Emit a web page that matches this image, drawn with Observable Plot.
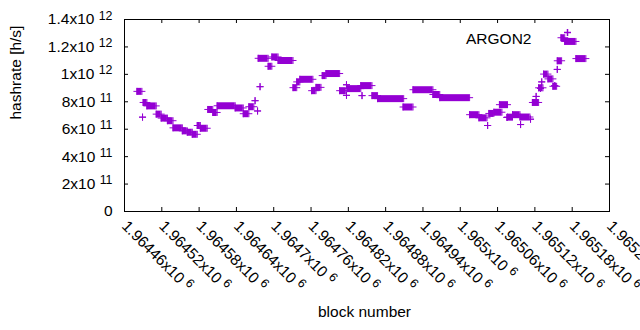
<!DOCTYPE html>
<html><head><meta charset="utf-8">
<script src="https://cdn.jsdelivr.net/npm/d3@7"></script>
<script src="https://cdn.jsdelivr.net/npm/@observablehq/plot@0.6"></script>
<style>html,body{margin:0;padding:0;background:#fff;overflow:hidden} svg{display:block}</style>
</head><body><div id="chart"></div>
<script>
// Runs of blocks with a constant hashrate estimate (start block, end block, hashrate in h/s)
const runStart = [1964480,1964489,1964490,1964496,1964511,1964519,1964529,1964538,1964553,1964561,
  1964569,1964577,1964582,1964594,1964602,1964609,1964638,1964651,1964660,1964670,
  1964674,1964678,1964675,1964691,1964697,1964707,1964731,1964737,1964742,1964761,
  1964768,1964778,1964784,1964806,1964817,1964817,1964818,1964842,1964840,1964858,
  1964867,1964908,1964924,1964956,1964967,1965015,1965030,1965044,1965046,1965054,
  1965063,1965075,1965076,1965084,1965097,1965096,1965113,1965116,1965122,1965126,
  1965129,1965131,1965134,1965141,1965149,1965152,1965156,1965156,1965162,1965168,
  1965186];
const runEnd = [1964488,1964489,1964496,1964511,1964519,1964529,1964538,1964553,1964561,1964569,
  1964577,1964582,1964593,1964602,1964609,1964638,1964651,1964660,1964668,1964670,
  1964674,1964678,1964691,1964697,1964707,1964731,1964737,1964742,1964763,1964768,
  1964776,1964784,1964806,1964816,1964817,1964817,1964840,1964842,1964858,1964867,
  1964909,1964924,1964956,1964967,1965015,1965030,1965043,1965044,1965054,1965067,
  1965076,1965075,1965084,1965096,1965097,1965112,1965113,1965126,1965122,1965133,
  1965129,1965131,1965141,1965149,1965155,1965152,1965156,1965163,1965168,1965186,
  1965202];
const runHashrate = [8.76e11,6.88e11,7.95e11,7.70e11,7.10e11,6.81e11,6.62e11,6.10e11,5.88e11,5.78e11,
  5.63e11,6.27e11,6.07e11,7.44e11,7.22e11,7.71e11,7.55e11,7.13e11,7.64e11,8.08e11,
  7.33e11,9.10e11,1.117e12,1.059e12,1.127e12,1.101e12,9.03e11,9.45e11,9.64e11,8.81e11,
  9.05e11,9.91e11,1.006e12,8.81e11,9.24e11,8.47e11,8.96e11,8.45e11,9.18e11,8.45e11,
  8.23e11,7.62e11,8.88e11,8.53e11,8.30e11,7.06e11,6.83e11,6.27e11,7.15e11,7.24e11,
  7.79e11,6.86e11,6.88e11,7.06e11,6.34e11,6.89e11,6.73e11,7.95e11,8.39e11,9.02e11,
  8.98e11,9.45e11,1.002e12,9.67e11,9.13e11,9.18e11,1.036e12,1.099e12,1.267e12,1.240e12,
  1.115e12];

const xTickValues = [1964460,1964520,1964580,1964640,1964700,1964760,1964820,1964880,
  1964940,1965000,1965060,1965120,1965180,1965240];
const yTickValues = [0,2e11,4e11,6e11,8e11,1e12,1.2e12,1.4e12];
const seriesName = "ARGON2";
const xLabel = "block number";
const yLabel = "hashrate [h/s]";

const color = "#9400d3";
const W = 640, H = 330, mL = 124, mR = 31, mT = 19, mB = 119;
const plotW = W - mL - mR, plotH = H - mT - mB;

const runs = runStart.map((s, i) => ({start: s, end: runEnd[i], hashrate: runHashrate[i]}));

function sci(v) {
  if (v === 0) return "0";
  const e = Math.floor(Math.log10(Math.abs(v)) + 1e-9);
  const m = +(v / Math.pow(10, e)).toPrecision(8);
  return m + "x10^" + e;
}

const plusSym = {draw(ctx) { const r = 3.5; ctx.moveTo(-r, 0); ctx.lineTo(r, 0); ctx.moveTo(0, -r); ctx.lineTo(0, r); }};

const chart = Plot.plot({
  width: W, height: H,
  marginLeft: mL, marginRight: mR, marginTop: mT, marginBottom: mB,
  style: {fontFamily: "'Liberation Sans', Arial, sans-serif", fontSize: "15.5px", background: "white", color: "black"},
  x: {domain: [xTickValues[0], xTickValues[xTickValues.length - 1]]},
  y: {domain: [yTickValues[0], yTickValues[yTickValues.length - 1]]},
  marks: [
    Plot.axisY({ticks: yTickValues, tickFormat: sci, tickSize: 0, tickPadding: 12, label: null}),
    Plot.axisX({ticks: xTickValues, tickFormat: sci, tickSize: 0, tickPadding: 12, tickRotate: 45, label: null}),
    Plot.tickY(yTickValues, {y: d => d, insetRight: plotW - 4, stroke: "black"}),
    Plot.tickY(yTickValues, {y: d => d, insetLeft: plotW - 4, stroke: "black"}),
    Plot.tickX(xTickValues, {x: d => d, insetTop: plotH - 4, stroke: "black"}),
    Plot.tickX(xTickValues, {x: d => d, insetBottom: plotH - 4, stroke: "black"}),
    Plot.ruleY(runs.filter(d => d.end > d.start), {x1: "start", x2: "end", y: "hashrate", stroke: color, strokeWidth: 7}),
    Plot.dot(runs, {x: "start", y: "hashrate", symbol: plusSym, r: 3, fill: "none", stroke: color, strokeWidth: 1}),
    Plot.dot(runs, {x: "end", y: "hashrate", symbol: plusSym, r: 3, fill: "none", stroke: color, strokeWidth: 1}),
    Plot.frame({stroke: "black"}),
    Plot.text([yLabel], {frameAnchor: "left", text: d => d, rotate: -90, dx: -108, dy: 4}),
    Plot.text([xLabel], {frameAnchor: "bottom", text: d => d, dx: -2.5, dy: 105}),
    Plot.text([seriesName], {frameAnchor: "top-right", text: d => d, textAnchor: "end", dx: -78, dy: 13}),
    Plot.dot([seriesName], {frameAnchor: "top-right", symbol: plusSym, r: 3, fill: "none", stroke: color, dx: -42, dy: 13})
  ]
});

chart.querySelectorAll('g[aria-label="y-axis tick label"] text, g[aria-label="x-axis tick label"] text').forEach(t => {
  const s = t.textContent;
  if (s.indexOf("^") < 0) return;
  const [m, e] = s.split("^");
  t.textContent = m + " ";
  const ts = document.createElementNS("http://www.w3.org/2000/svg", "tspan");
  ts.setAttribute("font-size", "0.8em");
  ts.setAttribute("dy", "-0.4em");
  ts.textContent = e;
  t.appendChild(ts);
});

document.getElementById("chart").appendChild(chart);
</script>
</body></html>
